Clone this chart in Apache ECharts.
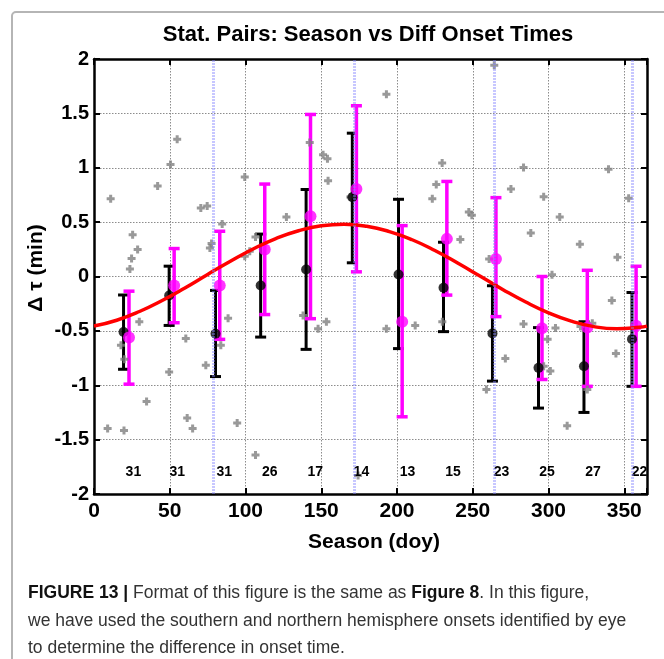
<!DOCTYPE html>
<html>
<head>
<meta charset="utf-8">
<script src="https://cdn.jsdelivr.net/npm/echarts@6/dist/echarts.min.js"></script>
<style>
html,body{margin:0;padding:0;background:#fff;}
#c{width:664px;height:659px;}
</style>
</head>
<body>
<div id="c"></div>
<script>
// ---------- data ----------
const xTicks = [0, 50, 100, 150, 200, 250, 300, 350];
const yTicks = [-2, -1.5, -1, -0.5, 0, 0.5, 1, 1.5, 2];

// black (median) error bars
const blackX    = [19.5, 49.6, 80.2, 110, 140, 170.5, 201, 230.7, 263, 293.4, 323.4, 355.1];
const blackMid  = [-0.51, -0.174, -0.526, -0.083, 0.064, 0.728, 0.018, -0.104, -0.523, -0.84, -0.826, -0.576];
const blackLow  = [-0.853, -0.45, -0.92, -0.557, -0.67, 0.126, -0.663, -0.507, -0.962, -1.21, -1.25, -1.01];
const blackHigh = [-0.17, 0.095, -0.128, 0.39, 0.80, 1.318, 0.71, 0.315, -0.085, -0.47, -0.416, -0.147];

// magenta (mean) error bars
const magX    = [23.1, 52.9, 83, 112.7, 142.9, 173.2, 203.4, 232.9, 265.3, 295.7, 325.6, 357.8];
const magMid  = [-0.56, -0.083, -0.083, 0.248, 0.553, 0.805, -0.416, 0.346, 0.161, -0.477, -0.47, -0.452];
const magLow  = [-0.99, -0.425, -0.578, -0.35, -0.388, 0.043, -1.29, -0.171, -0.369, -0.947, -1.01, -1.01];
const magHigh = [-0.135, 0.257, 0.416, 0.85, 1.49, 1.57, 0.468, 0.874, 0.725, 0.0, 0.057, 0.094];

// number of pairs per bin
const countX = [26, 55, 86, 116, 146, 176.5, 207, 237, 269, 299, 329.4, 360];
const counts = [31, 31, 31, 26, 17, 14, 13, 15, 23, 25, 27, 22];
const countY = -1.8;

// individual station pairs
const pairX = [11.0, 54.9, 50.5, 42.0, 99.5, 70.5, 74.7, 84.6, 127, 25.5, 28.8, 24.8, 23.7, 77.6, 76.5, 106.6, 99.5, 102.8,
  193, 142.4, 151.2, 154.1, 154.5, 169.2, 229.8, 225.9, 223.3, 247.4, 249.4, 241.8,
  264.2, 283.5, 339.6, 275.2, 296.8, 352.9, 307.4, 288.3, 320.7, 345.5, 260.8,
  29.9, 17.8, 20, 60.6, 49.6, 73.8, 88.5, 83.7, 34.7, 9.0, 19.8, 61.5, 65.1, 94.5, 106.6,
  138, 147.9, 153.4, 193, 212, 229.9, 174.3,
  302.3, 341.8, 283.5, 304.6, 299.4, 271.5, 301.2, 296.8, 259, 312.3, 344.5, 325.6, 321.1, 328.9];
const pairY = [0.716, 1.263, 1.03, 0.832, 0.915, 0.63, 0.649, 0.483, 0.548, 0.383, 0.248, 0.165, 0.07, 0.303, 0.263, 0.364, 0.186, 0.232,
  1.676, 1.232, 1.119, 1.083, 0.88, 0.73, 1.043, 0.847, 0.716, 0.594, 0.563, 0.34,
  1.943, 1.002, 0.986, 0.804, 0.733, 0.72, 0.548, 0.399, 0.297, 0.177, 0.161,
  -0.416, -0.633, -0.76, -0.569, -0.878, -0.817, -0.385, -0.633, -1.15, -1.397, -1.416, -1.30, -1.397, -1.346, -1.642,
  -0.358, -0.48, -0.416, -0.48, -0.45, -0.416, -1.83,
  0.017, -0.221, -0.437, -0.474, -0.576, -0.755, -0.87, -0.826, -1.04, -1.373, -0.709, -1.04, -0.46, -0.43];

// fitted seasonal curve
const curveX = [0, 15, 30, 45, 60, 75, 90, 105, 120, 135, 150, 165, 180, 195, 210, 225, 240, 255, 270, 285, 300, 315, 330, 345, 360, 365];
const curveY = [-0.456, -0.402, -0.322, -0.221, -0.105, 0.019, 0.140, 0.253, 0.349, 0.421, 0.466, 0.480, 0.462, 0.413, 0.338, 0.239, 0.124, 0.002, -0.121, -0.235, -0.334, -0.411, -0.461, -0.480, -0.467, -0.456];

// equinox / solstice markers
const seasonLines = [79, 172, 264, 355];

// ---------- build chart ----------
const FONT = "'Liberation Sans', Arial, Helvetica, sans-serif";
const zip2 = (a, b) => a.map((v, i) => [v, b[i]]);
const zip3 = (a, b, c) => a.map((v, i) => [v, b[i], c[i]]);

function errRender(color, width, cap) {
  return function (params, api) {
    const x = api.value(0);
    const p1 = api.coord([x, api.value(1)]);
    const p2 = api.coord([x, api.value(2)]);
    const st = { stroke: color, lineWidth: width };
    return {
      type: 'group',
      children: [
        { type: 'line', shape: { x1: p1[0], y1: p1[1], x2: p2[0], y2: p2[1] }, style: st },
        { type: 'line', shape: { x1: p1[0] - cap, y1: p1[1], x2: p1[0] + cap, y2: p1[1] }, style: st },
        { type: 'line', shape: { x1: p2[0] - cap, y1: p2[1], x2: p2[0] + cap, y2: p2[1] }, style: st }
      ]
    };
  };
}

const chart = echarts.init(document.getElementById('c'), null, { renderer: 'canvas' });

const axisCommon = {
  type: 'value',
  axisLine: { show: true, onZero: false, lineStyle: { color: '#000', width: 2.5 } },
  axisTick: { show: true, inside: true, length: 6, lineStyle: { color: '#000', width: 2 } },
  splitLine: { show: false }
};

chart.setOption({
  animation: false,
  backgroundColor: '#fff',
  grid: { left: 94, right: 17, top: 59, bottom: 165, containLabel: false },
  xAxis: [
    Object.assign({}, axisCommon, {
      position: 'bottom', min: 0, max: 365, interval: 50,
      axisLabel: { show: true, margin: 7, color: '#000', fontFamily: FONT, fontWeight: 'bold', fontSize: 21,
        formatter: v => (xTicks.indexOf(v) >= 0 ? String(v) : '') },
      splitLine: { show: true, lineStyle: { color: '#8c8c8c', type: [1.5, 1.5], width: 1 } }
    }),
    Object.assign({}, axisCommon, {
      position: 'top', min: 0, max: 365, interval: 50,
      axisLabel: { show: false }
    })
  ],
  yAxis: [
    Object.assign({}, axisCommon, {
      position: 'left', min: -2, max: 2, interval: 0.5,
      axisLabel: { show: true, margin: 5, color: '#000', fontFamily: FONT, fontWeight: 'bold', fontSize: 20,
        formatter: v => (yTicks.indexOf(v) >= 0 ? String(v) : '') },
      splitLine: { show: true, lineStyle: { color: '#8c8c8c', type: [1.5, 1.5], width: 1 } }
    }),
    Object.assign({}, axisCommon, {
      position: 'right', min: -2, max: 2, interval: 0.5,
      axisLabel: { show: false }
    })
  ],
  graphic: [
    { type: 'rect', shape: { x: 12, y: 12, width: 720, height: 720, r: 4 }, style: { fill: 'none', stroke: '#b5b5b5', lineWidth: 2 }, z: -10 },
    { type: 'text', x: 368, y: 35, style: { text: 'Stat. Pairs: Season vs Diff Onset Times', textAlign: 'center', textVerticalAlign: 'middle', font: 'bold 22px ' + FONT, fill: '#000' } },
    { type: 'text', x: 374, y: 542, style: { text: 'Season (doy)', textAlign: 'center', textVerticalAlign: 'middle', font: 'bold 21px ' + FONT, fill: '#000' } },
    { type: 'text', x: 36, y: 268, rotation: Math.PI / 2, style: { text: 'Δ τ (min)', textAlign: 'center', textVerticalAlign: 'middle', font: 'bold 21px ' + FONT, fill: '#000' } },
    { type: 'text', x: 28, y: 593, style: {
        text: '{b|FIGURE 13 |} Format of this figure is the same as {b|Figure 8}. In this figure,',
        textVerticalAlign: 'middle', font: '17.5px ' + FONT, fill: '#333',
        rich: { b: { font: 'bold 17.5px ' + FONT, fill: '#111' } } } },
    { type: 'text', x: 28, y: 621, style: { text: 'we have used the southern and northern hemisphere onsets identified by eye', textVerticalAlign: 'middle', font: '17.5px ' + FONT, fill: '#333' } },
    { type: 'text', x: 28, y: 648, style: { text: 'to determine the difference in onset time.', textVerticalAlign: 'middle', font: '17.5px ' + FONT, fill: '#333' } }
  ],
  series: [
    {
      name: 'pairs', type: 'scatter', data: zip2(pairX, pairY),
      symbol: 'path://M2.5,0 H5.5 V2.5 H8 V5.5 H5.5 V8 H2.5 V5.5 H0 V2.5 H2.5 Z', symbolSize: 8,
      itemStyle: { color: '#808080' }, silent: true,
      markLine: {
        silent: true, symbol: 'none', label: { show: false },
        lineStyle: { color: 'rgba(130,130,255,0.45)', width: 3, type: [2, 1] },
        data: seasonLines.map(v => ({ xAxis: v }))
      }
    },
    {
      name: 'fit', type: 'line', data: zip2(curveX, curveY), smooth: true, showSymbol: false,
      lineStyle: { color: '#ff0000', width: 3.5 }
    },
    {
      name: 'medianBars', type: 'custom', data: zip3(blackX, blackLow, blackHigh),
      renderItem: errRender('#000', 3, 5.5)
    },
    {
      name: 'median', type: 'scatter', data: zip2(blackX, blackMid),
      symbol: 'circle', symbolSize: 10, itemStyle: { color: '#000' }
    },
    {
      name: 'meanBars', type: 'custom', data: zip3(magX, magLow, magHigh),
      renderItem: errRender('#ff00ff', 3.5, 5.5)
    },
    {
      name: 'mean', type: 'scatter', data: zip2(magX, magMid),
      symbol: 'circle', symbolSize: 12, itemStyle: { color: '#ff00ff' }
    },
    {
      name: 'counts', type: 'scatter', data: countX.map((x, i) => [x, countY, counts[i]]),
      symbolSize: 1, silent: true, itemStyle: { opacity: 0 },
      label: { show: true, position: 'inside', formatter: p => String(p.value[2]),
        color: '#000', textBorderWidth: 0, opacity: 1, fontFamily: FONT, fontWeight: 'bold', fontSize: 14 }
    }
  ]
});
</script>
</body>
</html>
